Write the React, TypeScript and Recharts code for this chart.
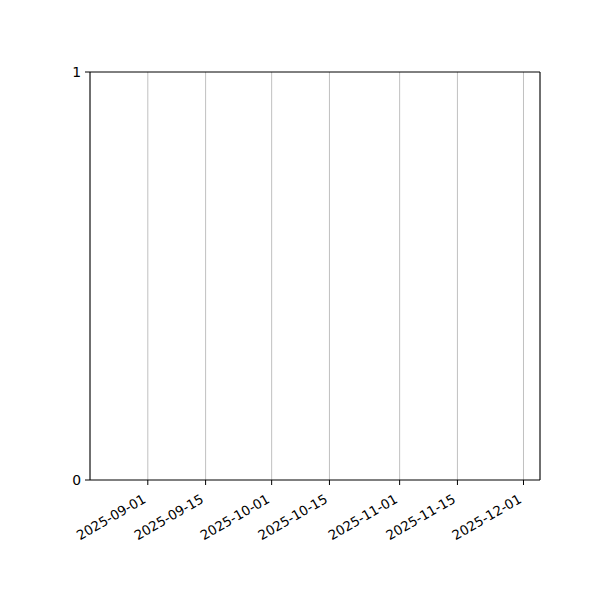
import { LineChart, Line, XAxis, YAxis, CartesianGrid, ReferenceArea } from 'recharts';

// tick dates (UTC) shown on the x axis
const tickDates = ['2025-09-01', '2025-09-15', '2025-10-01', '2025-10-15', '2025-11-01', '2025-11-15', '2025-12-01'];
// x range of the axes
const xStart = '2025-08-18';
const xEnd = '2025-12-05';
// y ticks
const yTicks = [0, 1];
// the series has no values (empty plot)
const seriesValues = [null, null, null, null, null, null, null];

const toTime = (s: string) => Date.parse(s + 'T00:00:00Z');
const xTicks = tickDates.map(toTime);
const data = tickDates.map((d, i) => ({ t: toTime(d), v: seriesValues[i] }));

const fmt = (t: number) => new Date(t).toISOString().slice(0, 10);

// matplotlib-style rotated label: box right edge at the tick, top below it
const DateTick = (props: any) => {
  const { x, y, payload } = props;
  const ax = x - 6;
  const ay = y + 3;
  return (
    <text
      x={ax}
      y={ay}
      transform={`rotate(-30, ${ax}, ${ay})`}
      textAnchor="end"
      dy="0.76em"
      fill="#000"
      fontSize={13.3}
      fontFamily="DejaVu Sans"
    >
      {fmt(payload.value)}
    </text>
  );
};

export default function App() {
  return (
    <div style={{ position: 'absolute', left: 0, top: 0, background: '#fff' }}>
      <LineChart width={600} height={600} data={data} margin={{ top: 72, right: 60, left: 60, bottom: 60 }}>
        <CartesianGrid horizontal={false} stroke="#b0b0b0" strokeWidth={0.8} />
        <XAxis
          dataKey="t"
          type="number"
          scale="time"
          domain={[toTime(xStart), toTime(xEnd)]}
          ticks={xTicks}
          tick={<DateTick />}
          interval={0}
          height={60}
          tickSize={5}
          tickMargin={5}
          axisLine={false}
          tickLine={{ stroke: '#000', strokeWidth: 1 }}
          allowDataOverflow
        />
        <YAxis
          type="number"
          domain={[0, 1]}
          ticks={yTicks}
          width={30}
          tickSize={5}
          tickMargin={4}
          tick={{ fill: '#000', fontSize: 13.9, fontFamily: 'DejaVu Sans' }}
          axisLine={false}
          tickLine={{ stroke: '#000', strokeWidth: 1 }}
          allowDataOverflow
        />
        {/* frame of the plot area (all four spines) */}
        <ReferenceArea
          x1={toTime(xStart)}
          x2={toTime(xEnd)}
          y1={0}
          y2={1}
          fill="none"
          fillOpacity={0}
          stroke="#000"
          strokeWidth={1}
          ifOverflow="visible"
        />
        <Line dataKey="v" stroke="#1f77b4" dot={false} isAnimationActive={false} connectNulls={false} />
      </LineChart>
    </div>
  );
}
